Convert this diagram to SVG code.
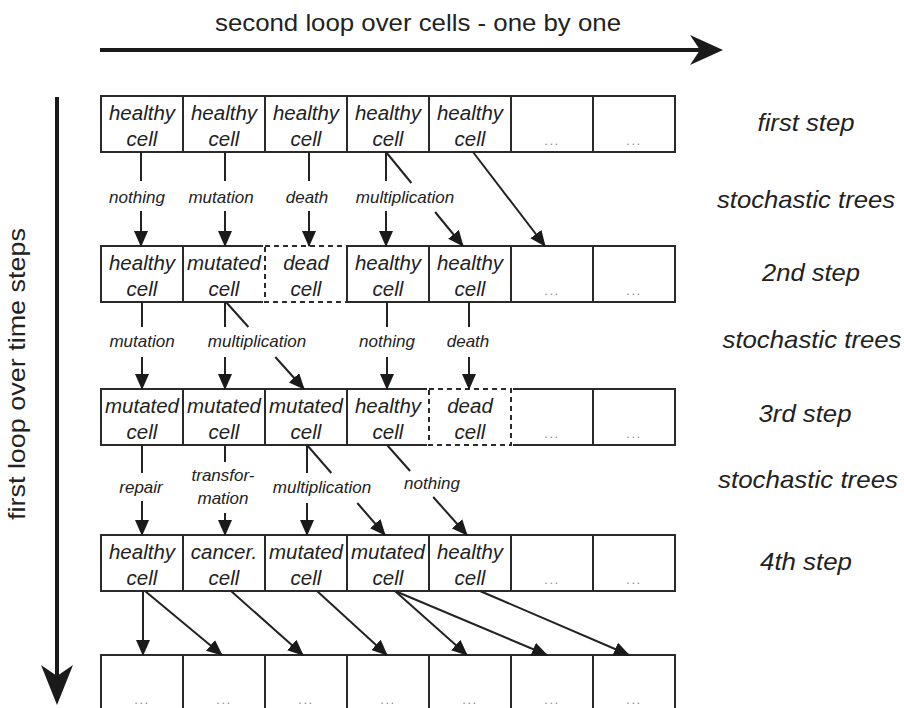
<svg xmlns="http://www.w3.org/2000/svg" width="904" height="708" viewBox="0 0 904 708">
<style>
.cell{fill:#fff;stroke:#2a2a2a;stroke-width:2}
.dead{fill:#fff;stroke:#2a2a2a;stroke-width:2;stroke-dasharray:5 4}
.erase{fill:none;stroke:#fff;stroke-width:4}
text{font-family:"Liberation Sans",Arial,Helvetica,sans-serif;fill:#222}
.ct{font-style:italic;font-size:20.5px;text-anchor:middle}
.dots{font-size:13px;fill:#888;text-anchor:middle;letter-spacing:1.5px}
.lbl{font-style:italic;font-size:17px;text-anchor:middle}
.step{font-style:italic;font-size:24px;text-anchor:middle}
.title{font-size:24px}
.conn line{stroke:#222;stroke-width:2}
.big{stroke:#1a1a1a;stroke-width:4}
</style>
<defs>
<marker id="ah" markerUnits="userSpaceOnUse" markerWidth="16" markerHeight="14" viewBox="0 0 16 14" refX="15" refY="7" orient="auto"><path d="M0,0 L16,7 L0,14 z" fill="#1a1a1a"/></marker>
</defs>
<rect width="904" height="708" fill="#fff"/>

<!-- loop arrows -->
<g id="loop-cells">
<text class="title" x="215" y="31" textLength="406" lengthAdjust="spacingAndGlyphs">second loop over cells - one by one</text>
<line class="big" x1="100" y1="50" x2="702" y2="50"/>
<polygon points="723,50 690,35 700,50 690,65" fill="#1a1a1a"/>
</g>
<g id="loop-time">
<text class="title" transform="translate(25,374) rotate(-90)" x="-146" y="0" textLength="292" lengthAdjust="spacingAndGlyphs">first loop over time steps</text>
<line class="big" x1="57" y1="97" x2="57" y2="680"/>
<polygon points="57,705 41,665 57,676 73,665" fill="#1a1a1a"/>
</g>

<!-- step labels -->
<g id="labels">
<text class="step" x="806" y="131" textLength="97" lengthAdjust="spacingAndGlyphs">first step</text>
<text class="step" x="806" y="208" textLength="178" lengthAdjust="spacingAndGlyphs">stochastic trees</text>
<text class="step" x="811" y="281" textLength="98" lengthAdjust="spacingAndGlyphs">2nd step</text>
<text class="step" x="812" y="348" textLength="179" lengthAdjust="spacingAndGlyphs">stochastic trees</text>
<text class="step" x="805" y="422" textLength="93" lengthAdjust="spacingAndGlyphs">3rd step</text>
<text class="step" x="808" y="488" textLength="180" lengthAdjust="spacingAndGlyphs">stochastic trees</text>
<text class="step" x="806" y="570" textLength="92" lengthAdjust="spacingAndGlyphs">4th step</text>
</g>

<!-- row 1 -->
<g id="r1c1"><rect class="cell" x="101" y="96" width="82" height="56"/><text class="ct" x="142" y="120">healthy</text><text class="ct" x="142" y="146">cell</text></g>
<g id="r1c2"><rect class="cell" x="183" y="96" width="82" height="56"/><text class="ct" x="224" y="120">healthy</text><text class="ct" x="224" y="146">cell</text></g>
<g id="r1c3"><rect class="cell" x="265" y="96" width="82" height="56"/><text class="ct" x="306" y="120">healthy</text><text class="ct" x="306" y="146">cell</text></g>
<g id="r1c4"><rect class="cell" x="347" y="96" width="82" height="56"/><text class="ct" x="388" y="120">healthy</text><text class="ct" x="388" y="146">cell</text></g>
<g id="r1c5"><rect class="cell" x="429" y="96" width="82" height="56"/><text class="ct" x="470" y="120">healthy</text><text class="ct" x="470" y="146">cell</text></g>
<g id="r1c6"><rect class="cell" x="511" y="96" width="82" height="56"/><text class="dots" x="552" y="145">...</text></g>
<g id="r1c7"><rect class="cell" x="593" y="96" width="82" height="56"/><text class="dots" x="634" y="145">...</text></g>

<!-- row 2 -->
<g id="r2c1"><rect class="cell" x="101" y="246" width="82" height="56"/><text class="ct" x="142" y="270">healthy</text><text class="ct" x="142" y="296">cell</text></g>
<g id="r2c2"><rect class="cell" x="183" y="246" width="82" height="56"/><text class="ct" x="224" y="270">mutated</text><text class="ct" x="224" y="296">cell</text></g>
<g id="r2c3"><rect class="erase" x="265" y="246" width="82" height="56"/><rect class="dead" x="265" y="246" width="82" height="56"/><text class="ct" x="306" y="270">dead</text><text class="ct" x="306" y="296">cell</text></g>
<g id="r2c4"><rect class="cell" x="347" y="246" width="82" height="56" fill-opacity="0"/><text class="ct" x="388" y="270">healthy</text><text class="ct" x="388" y="296">cell</text></g>
<g id="r2c5"><rect class="cell" x="429" y="246" width="82" height="56"/><text class="ct" x="470" y="270">healthy</text><text class="ct" x="470" y="296">cell</text></g>
<g id="r2c6"><rect class="cell" x="511" y="246" width="82" height="56"/><text class="dots" x="552" y="295">...</text></g>
<g id="r2c7"><rect class="cell" x="593" y="246" width="82" height="56"/><text class="dots" x="634" y="295">...</text></g>

<!-- row 3 -->
<g id="r3c1"><rect class="cell" x="101" y="389" width="82" height="56"/><text class="ct" x="142" y="413">mutated</text><text class="ct" x="142" y="439">cell</text></g>
<g id="r3c2"><rect class="cell" x="183" y="389" width="82" height="56"/><text class="ct" x="224" y="413">mutated</text><text class="ct" x="224" y="439">cell</text></g>
<g id="r3c3"><rect class="cell" x="265" y="389" width="82" height="56"/><text class="ct" x="306" y="413">mutated</text><text class="ct" x="306" y="439">cell</text></g>
<g id="r3c4"><rect class="cell" x="347" y="389" width="82" height="56"/><text class="ct" x="388" y="413">healthy</text><text class="ct" x="388" y="439">cell</text></g>
<g id="r3c6"><rect class="cell" x="511" y="389" width="82" height="56"/><text class="dots" x="552" y="438">...</text></g>
<g id="r3c7"><rect class="cell" x="593" y="389" width="82" height="56"/><text class="dots" x="634" y="438">...</text></g>
<g id="r3c5"><rect class="erase" x="429" y="389" width="82" height="56"/><rect class="dead" x="429" y="389" width="82" height="56"/><text class="ct" x="470" y="413">dead</text><text class="ct" x="470" y="439">cell</text></g>

<!-- row 4 -->
<g id="r4c1"><rect class="cell" x="101" y="535" width="82" height="56"/><text class="ct" x="142" y="559">healthy</text><text class="ct" x="142" y="585">cell</text></g>
<g id="r4c2"><rect class="cell" x="183" y="535" width="82" height="56"/><text class="ct" x="224" y="559">cancer.</text><text class="ct" x="224" y="585">cell</text></g>
<g id="r4c3"><rect class="cell" x="265" y="535" width="82" height="56"/><text class="ct" x="306" y="559">mutated</text><text class="ct" x="306" y="585">cell</text></g>
<g id="r4c4"><rect class="cell" x="347" y="535" width="82" height="56"/><text class="ct" x="388" y="559">mutated</text><text class="ct" x="388" y="585">cell</text></g>
<g id="r4c5"><rect class="cell" x="429" y="535" width="82" height="56"/><text class="ct" x="470" y="559">healthy</text><text class="ct" x="470" y="585">cell</text></g>
<g id="r4c6"><rect class="cell" x="511" y="535" width="82" height="56"/><text class="dots" x="552" y="584">...</text></g>
<g id="r4c7"><rect class="cell" x="593" y="535" width="82" height="56"/><text class="dots" x="634" y="584">...</text></g>

<!-- row 5 -->
<g id="r5c1"><rect class="cell" x="101" y="655" width="82" height="56"/><text class="dots" x="142" y="704">...</text></g>
<g id="r5c2"><rect class="cell" x="183" y="655" width="82" height="56"/><text class="dots" x="224" y="704">...</text></g>
<g id="r5c3"><rect class="cell" x="265" y="655" width="82" height="56"/><text class="dots" x="306" y="704">...</text></g>
<g id="r5c4"><rect class="cell" x="347" y="655" width="82" height="56"/><text class="dots" x="388" y="704">...</text></g>
<g id="r5c5"><rect class="cell" x="429" y="655" width="82" height="56"/><text class="dots" x="470" y="704">...</text></g>
<g id="r5c6"><rect class="cell" x="511" y="655" width="82" height="56"/><text class="dots" x="552" y="704">...</text></g>
<g id="r5c7"><rect class="cell" x="593" y="655" width="82" height="56"/><text class="dots" x="634" y="704">...</text></g>

<!-- connectors -->
<g id="connectors" class="conn">
<!-- step 1 -> 2 -->
<line x1="141" y1="152" x2="141" y2="181"/><line x1="141" y1="211" x2="141" y2="246" marker-end="url(#ah)"/>
<line x1="225" y1="152" x2="225" y2="181"/><line x1="225" y1="211" x2="225" y2="246" marker-end="url(#ah)"/>
<line x1="309" y1="152" x2="309" y2="181"/><line x1="309" y1="211" x2="309" y2="246" marker-end="url(#ah)"/>
<line x1="386" y1="152" x2="386" y2="181"/><line x1="386" y1="211" x2="386" y2="246" marker-end="url(#ah)"/>
<line x1="386" y1="152" x2="411.4" y2="183"/><line x1="435.1" y1="212" x2="463" y2="246" marker-end="url(#ah)"/>
<line x1="473" y1="152" x2="545" y2="246" marker-end="url(#ah)"/>
<!-- step 2 -> 3 -->
<line x1="142" y1="302" x2="142" y2="327"/><line x1="142" y1="357" x2="142" y2="389" marker-end="url(#ah)"/>
<line x1="225" y1="302" x2="225" y2="327"/><line x1="225" y1="357" x2="225" y2="389" marker-end="url(#ah)"/>
<line x1="226" y1="302" x2="248.4" y2="327"/><line x1="275.3" y1="357" x2="304" y2="389" marker-end="url(#ah)"/>
<line x1="387" y1="302" x2="387" y2="327"/><line x1="387" y1="357" x2="387" y2="389" marker-end="url(#ah)"/>
<line x1="469" y1="302" x2="469" y2="327"/><line x1="469" y1="357" x2="469" y2="389" marker-end="url(#ah)"/>
<!-- step 3 -> 4 -->
<line x1="142" y1="445" x2="142" y2="473"/><line x1="142" y1="501" x2="142" y2="535" marker-end="url(#ah)"/>
<line x1="225" y1="445" x2="225" y2="462"/><line x1="225" y1="513" x2="225" y2="535" marker-end="url(#ah)"/>
<line x1="307" y1="445" x2="307" y2="473"/><line x1="307" y1="503" x2="307" y2="535" marker-end="url(#ah)"/>
<line x1="307" y1="445" x2="331.3" y2="473"/><line x1="357.3" y1="503" x2="385" y2="535" marker-end="url(#ah)"/>
<line x1="387" y1="445" x2="410.1" y2="471"/><line x1="433.2" y1="497" x2="467" y2="535" marker-end="url(#ah)"/>
<!-- step 4 -> 5 -->
<line x1="143" y1="591" x2="143" y2="655" marker-end="url(#ah)"/>
<line x1="145" y1="591" x2="222" y2="655" marker-end="url(#ah)"/>
<line x1="231" y1="591" x2="303" y2="655" marker-end="url(#ah)"/>
<line x1="317" y1="591" x2="387" y2="655" marker-end="url(#ah)"/>
<line x1="395" y1="591" x2="467" y2="655" marker-end="url(#ah)"/>
<line x1="395" y1="591" x2="547" y2="655" marker-end="url(#ah)"/>
<line x1="480" y1="591" x2="629" y2="655" marker-end="url(#ah)"/>
</g>

<!-- connector labels -->
<g id="connector-labels">
<text class="lbl" x="137" y="203">nothing</text>
<text class="lbl" x="221" y="203">mutation</text>
<text class="lbl" x="307" y="203">death</text>
<text class="lbl" x="405" y="203">multiplication</text>
<text class="lbl" x="142" y="347">mutation</text>
<text class="lbl" x="257" y="347">multiplication</text>
<text class="lbl" x="387" y="347">nothing</text>
<text class="lbl" x="468" y="347">death</text>
<text class="lbl" x="141" y="493">repair</text>
<text class="lbl" x="223" y="481">transfor-</text>
<text class="lbl" x="223" y="504">mation</text>
<text class="lbl" x="322" y="493">multiplication</text>
<text class="lbl" x="432" y="489">nothing</text>
</g>
</svg>
